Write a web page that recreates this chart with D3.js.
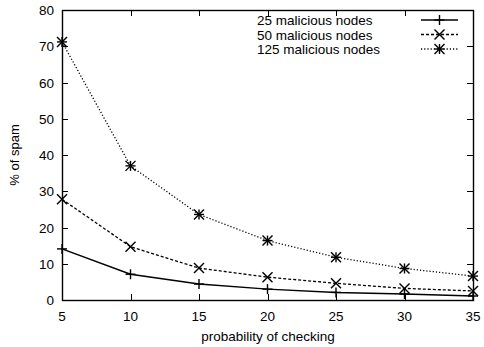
<!DOCTYPE html>
<html><head><meta charset="utf-8">
<script src="https://cdn.jsdelivr.net/npm/d3@7"></script>
<style>body{margin:0;background:#fff}svg{display:block}text{font-family:"Liberation Sans",Arial,sans-serif;fill:#000}</style>
</head><body>
<script>
const xValues = [5, 10, 15, 20, 25, 30, 35];
const nodes25 = [14.1, 7.1, 4.4, 3.0, 2.1, 1.65, 1.1];
const nodes50 = [27.8, 14.7, 8.8, 6.3, 4.6, 3.2, 2.5];
const nodes125 = [71.2, 37.0, 23.6, 16.4, 11.8, 8.7, 6.6];
const seriesNames = ["25 malicious nodes", "50 malicious nodes", "125 malicious nodes"];
const xTicks = [5, 10, 15, 20, 25, 30, 35];
const yTicks = [0, 10, 20, 30, 40, 50, 60, 70, 80];

const W = 484, H = 347;
const L = 62, R = 473, T = 10, B = 300;
const svg = d3.select("body").append("svg").attr("width", W).attr("height", H);
const x = d3.scaleLinear().domain([5, 35]).range([L, R]);
const y = d3.scaleLinear().domain([0, 80]).range([B, T]);
const tl = 6;
const FS = 13.5;

const g = svg.append("g").attr("stroke", "#000").attr("stroke-width", 1);
xTicks.forEach(v => {
  const px = Math.round(x(v)) + 0.5;
  g.append("line").attr("x1", px).attr("x2", px).attr("y1", B).attr("y2", B - tl);
  g.append("line").attr("x1", px).attr("x2", px).attr("y1", T).attr("y2", T + tl);
});
yTicks.forEach(v => {
  const py = Math.round(y(v)) + 0.5;
  g.append("line").attr("x1", L).attr("x2", L + tl).attr("y1", py).attr("y2", py);
  g.append("line").attr("x1", R).attr("x2", R - tl).attr("y1", py).attr("y2", py);
});
svg.append("rect").attr("x", L + 0.5).attr("y", T + 0.5).attr("width", R - L).attr("height", B - T)
  .attr("fill", "none").attr("stroke", "#000").attr("stroke-width", 1.4);

xTicks.forEach(v => svg.append("text").attr("x", x(v)).attr("y", B + 21).attr("text-anchor", "middle").attr("font-size", FS).text(v));
yTicks.forEach(v => svg.append("text").attr("x", L - 8).attr("y", y(v) + 5).attr("text-anchor", "end").attr("font-size", FS).text(v));

svg.append("text").attr("x", 268).attr("y", 341).attr("text-anchor", "middle").attr("font-size", FS).text("probability of checking");
svg.append("text").attr("transform", "translate(19,155) rotate(-90)").attr("text-anchor", "middle").attr("font-size", 13).text("% of spam");

const series = [
  {vals: nodes25, dash: null, mark: "plus"},
  {vals: nodes50, dash: "3,2", mark: "cross"},
  {vals: nodes125, dash: "1.2,2", mark: "star"}
];
function marker(sel, cx, cy, type) {
  const s = 5;
  const m = sel.append("g").attr("stroke", "#000").attr("stroke-width", 1.4).attr("fill", "none");
  if (type === "plus" || type === "star") {
    m.append("line").attr("x1", cx - s).attr("x2", cx + s).attr("y1", cy).attr("y2", cy);
    m.append("line").attr("x1", cx).attr("x2", cx).attr("y1", cy - s).attr("y2", cy + s);
  }
  if (type === "cross" || type === "star") {
    m.append("line").attr("x1", cx - s).attr("x2", cx + s).attr("y1", cy - s).attr("y2", cy + s);
    m.append("line").attr("x1", cx - s).attr("x2", cx + s).attr("y1", cy + s).attr("y2", cy - s);
  }
}
const line = d3.line().x((d, i) => x(xValues[i])).y(d => y(d));
series.forEach(s => {
  svg.append("path").attr("d", line(s.vals)).attr("fill", "none").attr("stroke", "#000")
    .attr("stroke-width", s.dash ? 1.3 : 1.5).attr("stroke-dasharray", s.dash);
  s.vals.forEach((v, i) => marker(svg, x(xValues[i]), y(v), s.mark));
});

series.forEach((s, i) => {
  const ly = 20 + i * 14.5;
  svg.append("text").attr("x", 257).attr("y", ly + 5).attr("text-anchor", "start").attr("font-size", FS).text(seriesNames[i]);
  svg.append("line").attr("x1", 421).attr("x2", 458).attr("y1", ly).attr("y2", ly).attr("stroke", "#000")
    .attr("stroke-width", s.dash ? 1.3 : 1.5).attr("stroke-dasharray", s.dash);
  marker(svg, 439.5, ly, s.mark);
});
</script>
</body></html>
